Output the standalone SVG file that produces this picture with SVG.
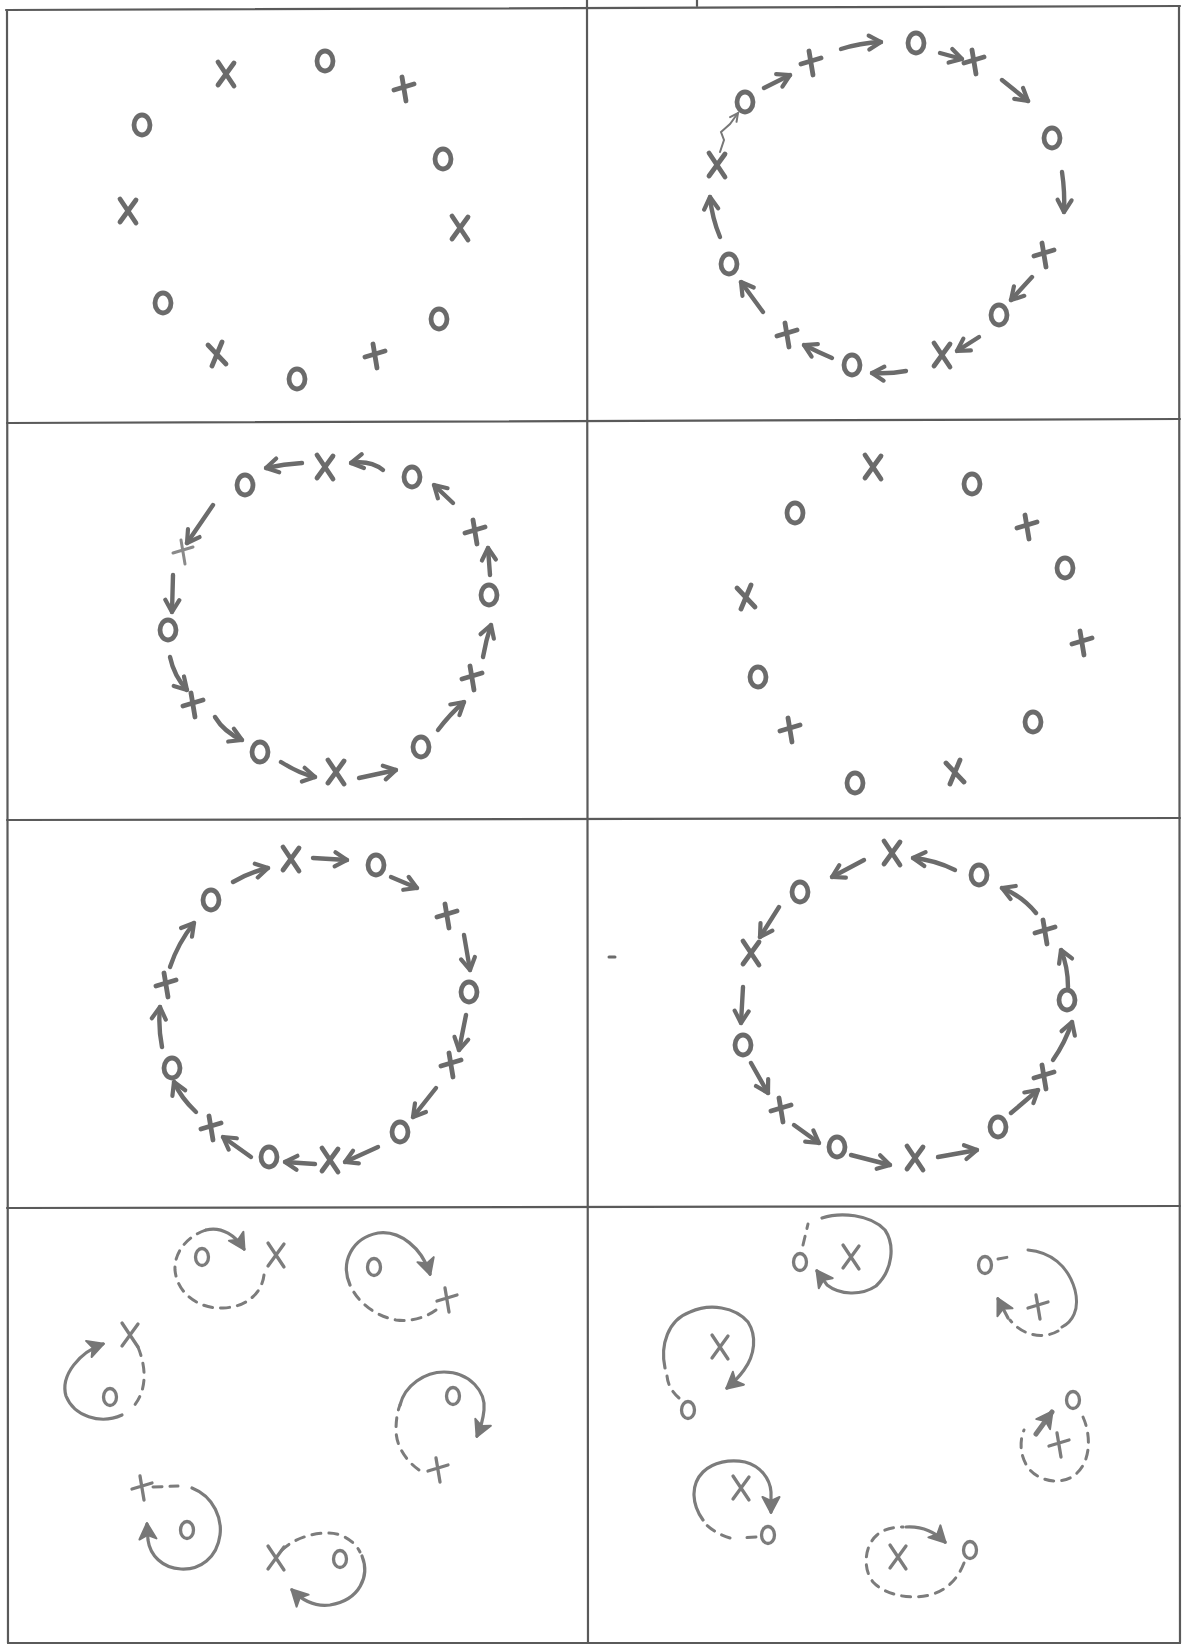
<svg xmlns="http://www.w3.org/2000/svg" xmlns:xlink="http://www.w3.org/1999/xlink" width="1183" height="1646" viewBox="0 0 1183 1646">
<defs>
<style>
.frame{stroke:#5a5a5a;stroke-width:2.2;fill:none;stroke-linecap:round}
.mk{stroke:#6b6b6b;stroke-width:4.8;fill:none;stroke-linecap:round;stroke-linejoin:round}
.mk2{stroke:#7c7c7c;stroke-width:3.3;fill:none;stroke-linecap:round;stroke-linejoin:round}
.ar{stroke:#6b6b6b;stroke-width:4.4;fill:none;stroke-linecap:round;marker-end:url(#head)}
.thin{stroke:#777;stroke-width:2;fill:none;stroke-linecap:round;marker-end:url(#headThin)}
.ds{stroke:#7c7c7c;stroke-width:3;fill:none;stroke-linecap:round;stroke-dasharray:9 8}
.sl{stroke:#7c7c7c;stroke-width:3;fill:none;stroke-linecap:round}
.sa{stroke:#7c7c7c;stroke-width:3.2;fill:none;stroke-linecap:round;marker-end:url(#fhead)}
</style>
<marker id="head" markerUnits="userSpaceOnUse" viewBox="0 0 20 20" refX="16" refY="10" markerWidth="20" markerHeight="20" orient="auto">
<path d="M4,3 L16,10 L4,17" fill="none" stroke="#6b6b6b" stroke-width="4.2" stroke-linecap="round" stroke-linejoin="round"/>
</marker>
<marker id="headThin" markerUnits="userSpaceOnUse" viewBox="0 0 12 12" refX="10" refY="6" markerWidth="12" markerHeight="12" orient="auto">
<path d="M2,2 L10,6 L2,10" fill="none" stroke="#777" stroke-width="2" stroke-linecap="round"/>
</marker>
<marker id="fhead" markerUnits="userSpaceOnUse" viewBox="0 0 22 22" refX="17" refY="11" markerWidth="22" markerHeight="22" orient="auto">
<path d="M2,2.5 L18,11 L2,19.5 L6,11 Z" fill="#777" stroke="#777" stroke-width="2" stroke-linejoin="round"/>
</marker>
<path id="xa" d="M-8,-12 L8,12 M8,-11 L-8,11"/>
<path id="xb" d="M-10,1 L10,-5 M-2,-12 L2,12"/>
<path id="xc" d="M-9,-9 L9,10 M5,-12 L-5,12"/>
<ellipse id="oa" rx="8" ry="10"/>
<ellipse id="ob" rx="6.5" ry="8.5"/>
</defs>
<rect width="1183" height="1646" fill="#ffffff"/>

<g id="frame" class="frame">
<path d="M6,10 L1180,6"/>
<path d="M7,10 L8,1643"/>
<path d="M1179,6 L1180,1643"/>
<path d="M587,0 L588,1643"/>
<path d="M7,423 L1180,419"/>
<path d="M7,820 L1180,818"/>
<path d="M7,1208 L1180,1206"/>
<path d="M8,1643 L1180,1643"/>
<path d="M697,0 L697,6"/>
</g>

<g id="panel1" class="mk">
<use id="p1-x1" href="#xa" x="226" y="74"/>
<use id="p1-o1" href="#oa" x="325" y="61"/>
<use id="p1-x2" href="#xb" x="404" y="89"/>
<use id="p1-o2" href="#oa" x="142" y="125"/>
<use id="p1-o3" href="#oa" x="443" y="159"/>
<use id="p1-x3" href="#xa" x="128" y="211"/>
<use id="p1-x4" href="#xa" x="460" y="228"/>
<use id="p1-o4" href="#oa" x="163" y="303"/>
<use id="p1-o5" href="#oa" x="439" y="319"/>
<use id="p1-x5" href="#xc" x="217" y="354"/>
<use id="p1-o6" href="#oa" x="297" y="379"/>
<use id="p1-x6" href="#xb" x="375" y="356"/>
</g>

<g id="panel2" class="mk">
<use id="p2-o1" href="#oa" x="916" y="43"/>
<use id="p2-x1" href="#xb" x="974" y="62"/>
<use id="p2-o2" href="#oa" x="1052" y="138"/>
<use id="p2-x2" href="#xb" x="1044" y="255"/>
<use id="p2-o3" href="#oa" x="999" y="315"/>
<use id="p2-x3" href="#xa" x="942" y="355"/>
<use id="p2-o4" href="#oa" x="852" y="365"/>
<use id="p2-x4" href="#xb" x="787" y="335"/>
<use id="p2-o5" href="#oa" x="729" y="264"/>
<use id="p2-x5" href="#xa" x="717" y="165"/>
<use id="p2-o6" href="#oa" x="745" y="102"/>
<use id="p2-x6" href="#xb" x="811" y="63"/>
</g>

<g id="panel3" class="mk">
<use id="p3-o1" href="#oa" x="245" y="485"/>
<use id="p3-x1" href="#xa" x="325" y="467"/>
<use id="p3-o2" href="#oa" x="412" y="477"/>
<use id="p3-x2" href="#xb" x="475" y="532"/>
<use id="p3-o3" href="#oa" x="489" y="595"/>
<use id="p3-x3" href="#xb" x="472" y="678"/>
<use id="p3-o4" href="#oa" x="421" y="747"/>
<use id="p3-x4" href="#xa" x="336" y="772"/>
<use id="p3-o5" href="#oa" x="260" y="752"/>
<use id="p3-x5" href="#xb" x="193" y="705"/>
<use id="p3-o6" href="#oa" x="168" y="630"/>
<use id="p3-x6" href="#xb" x="183" y="552" style="stroke:#8a8a8a;stroke-width:3"/>
</g>

<g id="panel4" class="mk">
<use id="p4-x1" href="#xa" x="873" y="467"/>
<use id="p4-o1" href="#oa" x="972" y="484"/>
<use id="p4-o2" href="#oa" x="795" y="513"/>
<use id="p4-x2" href="#xb" x="1027" y="527"/>
<use id="p4-o3" href="#oa" x="1065" y="568"/>
<use id="p4-x3" href="#xc" x="746" y="597"/>
<use id="p4-x4" href="#xb" x="1082" y="643"/>
<use id="p4-o4" href="#oa" x="758" y="677"/>
<use id="p4-x5" href="#xb" x="790" y="730"/>
<use id="p4-o5" href="#oa" x="1033" y="722"/>
<use id="p4-x6" href="#xc" x="955" y="772"/>
<use id="p4-o6" href="#oa" x="855" y="783"/>
</g>

<g id="panel5" class="mk">
<use id="p5-x1" href="#xa" x="291" y="859"/>
<use id="p5-o1" href="#oa" x="376" y="865"/>
<use id="p5-x2" href="#xb" x="447" y="916"/>
<use id="p5-o2" href="#oa" x="469" y="992"/>
<use id="p5-x3" href="#xb" x="451" y="1065"/>
<use id="p5-o3" href="#oa" x="400" y="1132"/>
<use id="p5-x4" href="#xa" x="330" y="1160"/>
<use id="p5-o4" href="#oa" x="269" y="1157"/>
<use id="p5-x5" href="#xb" x="211" y="1128"/>
<use id="p5-o5" href="#oa" x="172" y="1068"/>
<use id="p5-x6" href="#xb" x="166" y="985"/>
<use id="p5-o6" href="#oa" x="211" y="900"/>
</g>

<g id="panel6" class="mk">
<use id="p6-x1" href="#xa" x="892" y="853"/>
<use id="p6-o1" href="#oa" x="979" y="875"/>
<use id="p6-x2" href="#xb" x="1045" y="932"/>
<use id="p6-o2" href="#oa" x="1067" y="1000"/>
<use id="p6-x3" href="#xb" x="1044" y="1077"/>
<use id="p6-o3" href="#oa" x="998" y="1127"/>
<use id="p6-x4" href="#xa" x="915" y="1158"/>
<use id="p6-o4" href="#oa" x="837" y="1147"/>
<use id="p6-x5" href="#xb" x="781" y="1110"/>
<use id="p6-o5" href="#oa" x="743" y="1045"/>
<use id="p6-x6" href="#xa" x="751" y="953"/>
<use id="p6-o6" href="#oa" x="800" y="892"/>
<path id="p6-speck" d="M609,957 L615,957" style="stroke-width:3"/>
</g>

<g id="panel7" class="mk2">
<use id="p7-o1" href="#ob" x="202" y="1257"/>
<use id="p7-x1" href="#xa" x="276" y="1255"/>
<use id="p7-o2" href="#ob" x="374" y="1267"/>
<use id="p7-x2" href="#xb" x="447" y="1300"/>
<use id="p7-x3" href="#xa" x="130" y="1335"/>
<use id="p7-o3" href="#ob" x="110" y="1397"/>
<use id="p7-o4" href="#ob" x="453" y="1396"/>
<use id="p7-x4" href="#xb" x="438" y="1470"/>
<use id="p7-x5" href="#xb" x="142" y="1488"/>
<use id="p7-o5" href="#ob" x="187" y="1530"/>
<use id="p7-x6" href="#xa" x="276" y="1558"/>
<use id="p7-o6" href="#ob" x="340" y="1559"/>
</g>

<g id="panel8" class="mk2">
<use id="p8-o1" href="#ob" x="800" y="1262"/>
<use id="p8-x1" href="#xa" x="851" y="1257"/>
<use id="p8-o2" href="#ob" x="985" y="1265"/>
<use id="p8-x2" href="#xb" x="1038" y="1307"/>
<use id="p8-x3" href="#xa" x="720" y="1347"/>
<use id="p8-o3" href="#ob" x="688" y="1410"/>
<use id="p8-o4" href="#ob" x="1073" y="1400"/>
<use id="p8-x4" href="#xb" x="1059" y="1445"/>
<use id="p8-x5" href="#xa" x="741" y="1488"/>
<use id="p8-o5" href="#ob" x="768" y="1535"/>
<use id="p8-x6" href="#xa" x="898" y="1557"/>
<use id="p8-o6" href="#ob" x="970" y="1550"/>
</g>

<g id="connectors">
<g id="c2">
<path class="ar" d="M841,49 Q860,43 881,42"/>
<path class="ar" d="M940,53 L962,59"/>
<path class="ar" d="M1002,80 L1028,101"/>
<path class="ar" d="M1062,172 Q1065,192 1064,212"/>
<path class="ar" d="M1032,277 L1011,300"/>
<path class="ar" d="M979,337 L957,351"/>
<path class="ar" d="M906,371 Q890,374 872,373"/>
<path class="ar" d="M832,358 Q818,352 804,345"/>
<path class="ar" d="M763,312 L741,282"/>
<path class="ar" d="M720,237 Q712,218 710,197"/>
<path class="thin" d="M720,152 L724,140 L721,132 L730,124 L738,113"/>
<path class="ar" d="M764,88 L790,75"/>
</g>
<g id="c3">
<path class="ar" d="M302,463 Q284,464 266,468"/>
<path class="ar" d="M383,470 Q370,460 351,463"/>
<path class="ar" d="M453,503 L434,485"/>
<path class="ar" d="M490,575 L488,548"/>
<path class="ar" d="M483,657 Q486,640 491,625"/>
<path class="ar" d="M438,730 Q450,714 464,702"/>
<path class="ar" d="M359,778 L396,770"/>
<path class="ar" d="M281,762 Q300,774 315,777"/>
<path class="ar" d="M215,717 Q224,732 242,740"/>
<path class="ar" d="M170,657 Q174,676 187,690"/>
<path class="ar" d="M173,575 L172,612"/>
<path class="ar" d="M213,505 L187,543"/>
</g>
<g id="c5">
<path class="ar" d="M313,858 L347,860"/>
<path class="ar" d="M391,877 L417,888"/>
<path class="ar" d="M464,935 L470,970"/>
<path class="ar" d="M466,1015 L459,1050"/>
<path class="ar" d="M436,1088 L413,1117"/>
<path class="ar" d="M378,1147 L345,1162"/>
<path class="ar" d="M315,1164 L285,1162"/>
<path class="ar" d="M251,1157 L223,1137"/>
<path class="ar" d="M196,1112 Q181,1098 174,1082"/>
<path class="ar" d="M162,1047 Q158,1027 160,1007"/>
<path class="ar" d="M170,967 Q178,943 194,923"/>
<path class="ar" d="M233,882 Q250,872 268,868"/>
</g>
<g id="c6">
<path class="ar" d="M955,870 Q935,860 913,858"/>
<path class="ar" d="M1036,913 Q1022,896 1002,888"/>
<path class="ar" d="M1068,987 Q1068,967 1061,950"/>
<path class="ar" d="M1053,1060 Q1065,1043 1072,1022"/>
<path class="ar" d="M1011,1113 L1038,1090"/>
<path class="ar" d="M938,1157 L977,1150"/>
<path class="ar" d="M851,1155 L890,1165"/>
<path class="ar" d="M794,1125 L819,1143"/>
<path class="ar" d="M751,1063 L768,1093"/>
<path class="ar" d="M743,987 L741,1023"/>
<path class="ar" d="M779,907 L760,937"/>
<path class="ar" d="M864,860 L832,877"/>
</g>
<g id="c7">
<path class="ds" d="M264,1275 C262,1292 248,1307 223,1308 C198,1309 177,1293 175,1270 C174,1250 190,1235 206,1230"/>
<path class="sa" d="M206,1230 C222,1226 236,1236 244,1249"/>
<path class="ds" d="M436,1310 C425,1318 410,1322 396,1320 C375,1316 358,1302 351,1287"/>
<path class="sa" d="M350,1285 C340,1262 352,1238 378,1233 C400,1230 422,1248 430,1274"/>
<path class="ds" d="M138,1347 C148,1372 146,1395 130,1410"/>
<path class="sa" d="M122,1415 C100,1425 74,1416 66,1396 C60,1375 80,1352 103,1344"/>
<path class="ds" d="M419,1470 C405,1460 396,1445 396,1430 C396,1418 398,1410 400,1405"/>
<path class="sa" d="M400,1405 C405,1385 425,1372 444,1372 C470,1372 486,1392 484,1410 C483,1420 481,1427 477,1436"/>
<path class="ds" d="M153,1487 L178,1486"/>
<path class="sa" d="M192,1488 C215,1497 222,1520 220,1535 C217,1558 200,1570 181,1569 C162,1568 150,1555 148,1540 L147,1524"/>
<path class="ds" d="M282,1550 C292,1540 310,1533 328,1533 C343,1533 355,1542 360,1552"/>
<path class="sa" d="M362,1556 C370,1576 360,1600 330,1605 C315,1607 302,1600 292,1590"/>
</g>
<g id="c8">
<path class="ds" d="M803,1245 L808,1224"/>
<path class="sa" d="M822,1218 C840,1212 870,1214 885,1230 C895,1245 893,1270 876,1286 C861,1296 840,1295 827,1285 L817,1271"/>
<path class="ds" d="M998,1259 L1009,1257"/>
<path class="sl" d="M1028,1250 C1050,1252 1068,1265 1075,1290 C1080,1310 1072,1322 1062,1327"/>
<path class="ds" d="M1058,1331 C1042,1340 1022,1335 1010,1320"/>
<path class="sa" d="M1008,1318 L998,1299"/>
<path class="ds" d="M679,1398 C672,1392 668,1385 667,1376"/>
<path class="sa" d="M665,1368 C660,1345 668,1320 690,1312 C710,1303 735,1307 748,1322 C757,1336 755,1355 744,1370 C739,1377 734,1382 727,1388"/>
<path class="ds" d="M1083,1417 C1091,1435 1091,1460 1077,1473 C1065,1485 1042,1483 1030,1470 C1020,1458 1019,1442 1024,1430"/>
<path class="sa" d="M1036,1434 L1052,1412" style="stroke-width:5"/>
<path class="ds" d="M756,1537 L741,1538 M730,1538 C720,1535 709,1529 703,1521"/>
<path class="sa" d="M703,1520 C692,1505 690,1485 703,1472 C713,1462 730,1459 745,1462 C760,1466 770,1478 771,1492 L771,1512"/>
<path class="ds" d="M964,1563 C958,1578 948,1590 930,1595 C910,1600 885,1595 873,1582 C862,1568 865,1545 877,1535 C885,1528 895,1527 903,1527"/>
<path class="sa" d="M906,1527 C922,1526 935,1532 945,1542"/>
</g>
</g>
</svg>
